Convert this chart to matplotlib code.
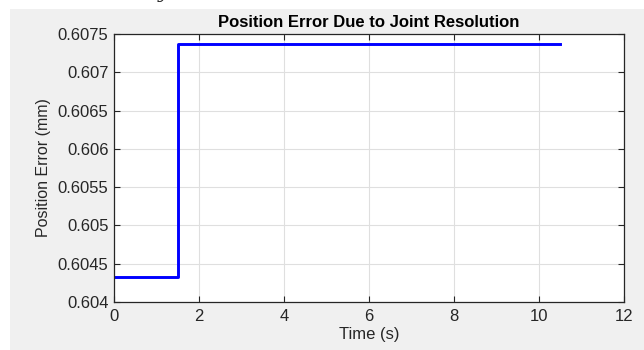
import matplotlib
matplotlib.use("Agg")
import matplotlib.pyplot as plt

# Data
time_s = [0.0, 1.5, 1.5, 10.5]
position_error_mm = [0.60432, 0.60432, 0.60737, 0.60737]
x_ticks = [0, 2, 4, 6, 8, 10, 12]
y_ticks = [0.604, 0.6045, 0.605, 0.6055, 0.606, 0.6065, 0.607, 0.6075]
y_tick_labels = ["0.604", "0.6045", "0.605", "0.6055", "0.606", "0.6065", "0.607", "0.6075"]

plt.rcParams['font.family'] = ['Liberation Sans', 'DejaVu Sans']

W, H = 644, 350
fig = plt.figure(figsize=(W / 100, H / 100), dpi=100)
fig.patch.set_facecolor('white')

# gray MATLAB figure panel (background axes)
bg = fig.add_axes([10 / W, 0, 1 - 10 / W, 1 - 9 / H], zorder=-5)
bg.set_facecolor('#f0f0f0')
bg.set_xticks([])
bg.set_yticks([])
for s in bg.spines.values():
    s.set_visible(False)

# cropped text fragment at the very top
fig.text(163 / W, 1 + 2 / H, "y", fontsize=13, family='DejaVu Serif',
         style='italic', va='baseline', ha='center', color='#222222')

left, right, top, bottom = 114, 624, 34, 302
ax = fig.add_axes([left / W, 1 - bottom / H, (right - left) / W, (bottom - top) / H])
ax.set_facecolor('white')
ax.plot(time_s, position_error_mm, color='#0000ff', linewidth=2.1)
ax.set_xlim(0, 12)
ax.set_ylim(0.604, 0.6075)
ax.set_xticks(x_ticks)
ax.set_yticks(y_ticks)
ax.set_yticklabels(y_tick_labels)
ax.grid(True, color='#dfdfdf', linewidth=0.8)
ax.set_axisbelow(True)
ax.tick_params(direction='in', length=4, top=True, right=True, labelsize=12,
               colors='#262626', width=0.8)
ax.tick_params(axis='x', pad=5)
ax.tick_params(axis='y', pad=4)
for s in ax.spines.values():
    s.set_color('#262626')
    s.set_linewidth(0.9)
ax.set_xlabel('Time (s)', fontsize=12, color='#262626', labelpad=2)
ax.set_ylabel('Position Error (mm)', fontsize=11.5, color='#262626', labelpad=5)
ax.set_title('Position Error Due to Joint Resolution', fontsize=12, fontweight='bold',
             color='#000000', pad=5)

fig.savefig('out.png', dpi=100)
